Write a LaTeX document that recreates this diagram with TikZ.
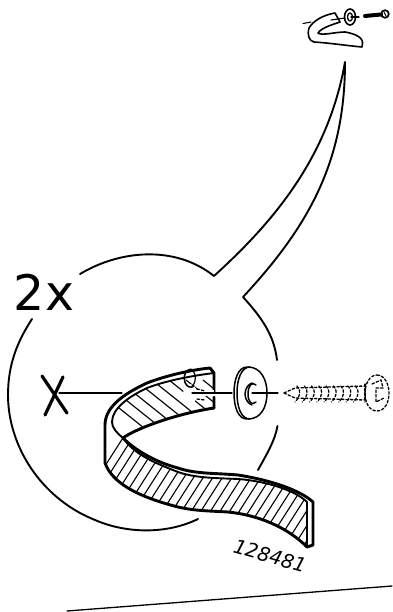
\documentclass[tikz,border=0pt]{standalone}
\usepackage{fontspec}
\setmainfont{DejaVu Sans}
\begin{document}
\begin{tikzpicture}[x=1pt,y=-1pt,line join=round,line cap=round,
  thin line/.style={line width=1.3pt},
  med line/.style={line width=1.9pt},
  heavy/.style={line width=2.9pt},
  hatchline/.style={line width=1.1pt},
  dash line/.style={line width=1.3pt,dash pattern=on 2.5pt off 2pt}]
\useasboundingbox (0,0) rectangle (392,612);
\fill[white] (0,0) rectangle (392,612);
% base line
\draw[thin line] (67,611) -- (392,586);
% callout outline
\draw[med line] (80,274) .. controls (120,250) and (175,245) .. (214,276)
  .. controls (270,225) and (328,160) .. (345,62)
  .. controls (345,160) and (310,225) .. (243,297)
  .. controls (262,318) and (274,335) .. (277,360);
\draw[med line] (277.5,426) .. controls (275,440) and (268,452) .. (258,470);
\draw[med line] (198,519) .. controls (165,535) and (125,533) .. (95,520);
\draw[med line] (95,520) .. controls (40,498) and (8,445) .. (8,395) .. controls (8,365) and (17,342) .. (32,319);
% labels
\node[anchor=center,font=\fontsize{49}{49}\selectfont] (twox) at (44,292) {2x};
\node[anchor=center,rotate=-16,font=\fontsize{19.5}{19.5}\selectfont\itshape] (num) at (270,556) {128481};
% X and leader
\draw[line width=3.2pt] (42,376) -- (67,413) (63,377) -- (45,415);
\draw[thin line] (59,393) -- (122,393);
% hook upper hatch
\begin{scope}
\clip (214,373) .. controls (190,376) and (165,381) .. (147,388) .. controls (130,396) and (112,408) .. (112,422) .. controls (112,428) and (117,433) .. (123,438)
  .. controls (135,429) and (175,414) .. (214,408) -- cycle;
\foreach \i in {0,...,9}{
  \draw[hatchline] ({84+\i*17},{380}) -- ++(60,48);
}
\end{scope}
% hook lower hatch
\begin{scope}
\clip (106,445) -- (106,463) .. controls (112,480) and (135,495) .. (178,507)
  .. controls (195,511) and (212,511) .. (228,512) .. controls (255,515) and (285,525) .. (307,547)
  -- (307,502) .. controls (295,490) and (265,481) .. (238,479)
  .. controls (215,478) and (195,478) .. (178,472) .. controls (155,463) and (135,455) .. (123,438) -- cycle;
\foreach \i in {0,...,27}{
  \draw[hatchline] ({128+\i*9.6},{430}) -- ++(-78,122);
}
\end{scope}
% hook outlines
\draw[heavy] (210,368) .. controls (190,370) and (165,376) .. (147,383)
  .. controls (128,392) and (105,405) .. (105,425) -- (105,463)
  .. controls (112,482) and (135,496) .. (178,507)
  .. controls (195,511) and (212,511) .. (228,512)
  .. controls (258,515) and (287,527) .. (307,547) -- (313,545) -- (313,502)
  .. controls (300,490) and (270,480) .. (238,475)
  .. controls (215,473) and (195,474) .. (178,468)
  .. controls (155,462) and (135,450) .. (123,438)
  .. controls (135,429) and (175,414) .. (214,408);
\draw[heavy] (210,368) -- (214,373) -- (214,392) (214,397) -- (214,408);
\draw[med line] (214,373) .. controls (190,376) and (165,381) .. (147,388) .. controls (130,396) and (112,408) .. (112,422) .. controls (112,428) and (117,433) .. (123,438);
\draw[med line] (307,502) -- (307,545);
\draw[med line] (307,502) .. controls (295,490) and (265,481) .. (238,479)
  .. controls (215,478) and (195,478) .. (178,472) .. controls (155,463) and (135,455) .. (123,438);
% hole in hook
\fill[white] (190,394) ellipse [x radius=7,y radius=10];
\draw[line width=1.5pt] (194,386) arc[start angle=60,end angle=300,x radius=6.5,y radius=9];
\draw[line width=1.2pt] (192,386) arc[start angle=70,end angle=-70,x radius=5,y radius=8.5];
\fill[white] (193,390) rectangle (214,396);
\draw[dash line] (197,389) -- (205,391) (197,399) -- (205,400);
\draw[thin line] (192,393) -- (232,393);
% washer
\draw[line width=1.5pt] (247,367) .. controls (238,367) and (234,380) .. (234,393) .. controls (234,407) and (238,419) .. (247,419);
\draw[line width=1.5pt] (250,367) .. controls (241,367) and (237,380) .. (237,393) .. controls (237,407) and (241,419) .. (250,419);
\draw[line width=1.5pt] (248,367) .. controls (261,367) and (267,380) .. (267,393)
  .. controls (267,407) and (261,419) .. (248,419);
\draw[line width=1.5pt] (256,385) .. controls (252,381) and (248,386) .. (248,394) .. controls (248,402) and (252,406) .. (256,402);
\draw[line width=1.5pt] (252,383) .. controls (249,384) and (245,388) .. (245,394) .. controls (245,400) and (249,404) .. (252,405);
\draw[thin line] (252,393) -- (278,393);
% screw (dashed)
\draw[dash line] (284,393) -- (295,388) -- (365,386);
\draw[dash line] (284,393) -- (295,398) -- (365,400);
\foreach \i in {0,...,8}{
  \draw[dash line] ({297+\i*7.3},386) .. controls ({301+\i*7.3},390) and ({301+\i*7.3},396) .. ({295+\i*7.3},402);
}
\draw[dash line] (365,384) -- (365,402);
\draw[dash line] (377,375) .. controls (385,375) and (389,385) .. (389,393) .. controls (389,402) and (385,411) .. (377,411)
  .. controls (369,411) and (365,402) .. (365,393) .. controls (365,385) and (369,375) .. (377,375);
\draw[dash line] (372,384) -- (381,380) -- (383,388) -- (376,388) -- (376,402) -- (384,398);
% small icon hook
\draw[line width=1.6pt] (335,13) .. controls (323,15) and (313,21) .. (309,28) .. controls (307,35) and (309,41) .. (314,42)
  .. controls (330,43) and (350,46) .. (362,47) .. controls (364,41) and (362,35) .. (345,32)
  .. controls (335,32) and (322,36) .. (318,33) .. controls (322,27) and (335,24) .. (340,22) -- (335,13);
\draw[line width=1.1pt] (303,23.5) -- (311,22);
\draw[line width=1.1pt] (331,20) -- (345,18);
% small washer
\draw[line width=1.6pt] (350,17) ellipse [x radius=5.5,y radius=8];
\draw[line width=1.3pt] (350,17) ellipse [x radius=2.5,y radius=4];
\draw[line width=1.1pt] (351,17) -- (359,17);
% small screw
\draw[line width=4pt] (365,16) -- (381,14.5);
\draw[line width=1.7pt] (385,14) circle [radius=3.8];
\draw[line width=1.1pt] (384,12) -- (386,16);
\end{tikzpicture}
\end{document}
